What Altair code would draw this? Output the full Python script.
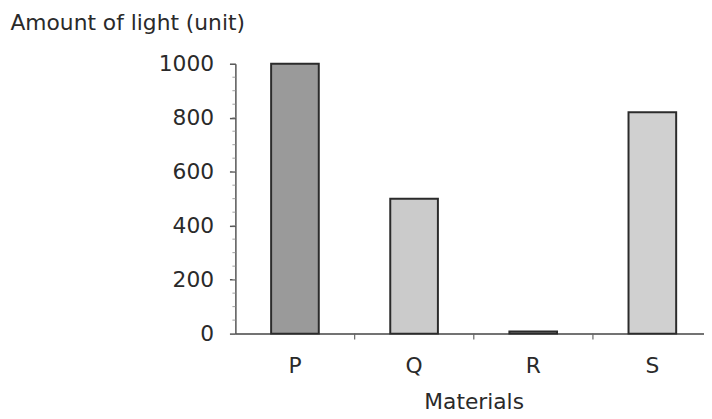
import altair as alt
import pandas as pd

materials = ["P", "Q", "R", "S"]
light = [1000, 500, 8, 820]
fills = ["#9a9a9a", "#cbcbcb", "#bdbdbd", "#d0d0d0"]
y_ticks = [0, 200, 400, 600, 800, 1000]
y_minor = list(range(50, 1000, 50))
boundary_materials = ["Q", "R", "S"]

df = pd.DataFrame({"Material": materials, "Light": light})
df_bound = pd.DataFrame({"Material": boundary_materials})
df_minor = pd.DataFrame({"Light": y_minor})

FONT = "DejaVu Sans"
TXT = "#2a2a2a"

x_axis = alt.Axis(
    title="Materials",
    labelAngle=0,
    ticks=False,
    labelPadding=22,
    labelFont=FONT,
    labelFontSize=22,
    labelColor=TXT,
    titleFont=FONT,
    titleFontSize=22,
    titleFontWeight="normal",
    titleColor=TXT,
    titleBaseline="alphabetic",
    titleY=76,
    domainColor="#444444",
    domainWidth=1.5,
)

y_axis = alt.Axis(
    title="Amount of light (unit)",
    values=y_ticks,
    format="d",
    grid=False,
    tickSize=6,
    tickColor="#555555",
    tickWidth=1.5,
    labelPadding=16,
    labelFont=FONT,
    labelFontSize=22,
    labelColor=TXT,
    titleFont=FONT,
    titleFontSize=22,
    titleFontWeight="normal",
    titleColor=TXT,
    titleAngle=0,
    titleAlign="left",
    titleBaseline="alphabetic",
    titleX=-228,
    titleY=-35,
    domainColor="#555555",
    domainWidth=1.5,
)

x_scale = alt.Scale(domain=materials, paddingInner=0.6, paddingOuter=0.3)
y_scale = alt.Scale(domain=[0, 1000], nice=False)

bars = alt.Chart(df).mark_bar(stroke="#2b2b2b", strokeWidth=2).encode(
    x=alt.X("Material:N", sort=materials, scale=x_scale, axis=x_axis),
    y=alt.Y("Light:Q", scale=y_scale, axis=y_axis),
    color=alt.Color(
        "Material:N",
        scale=alt.Scale(domain=materials, range=fills),
        legend=None,
    ),
)

bound_ticks = alt.Chart(df_bound).mark_rule(
    color="#666666", strokeWidth=1.2, xOffset=-36
).encode(
    x=alt.X("Material:N", sort=materials, scale=x_scale, bandPosition=0, axis=x_axis),
    y=alt.value(273),
    y2=alt.value(279),
)

minor_ticks = alt.Chart(df_minor).mark_rule(color="#a0a0a0", strokeWidth=1).encode(
    y=alt.Y("Light:Q", scale=y_scale, axis=y_axis),
    x=alt.value(-3),
    x2=alt.value(0),
)

chart = (
    alt.layer(bars, minor_ticks, bound_ticks)
    .properties(
        width=482,
        height=273,
        autosize=alt.AutoSizeParams(type="none"),
        padding={"left": 230, "top": 54, "right": -8, "bottom": 84},
        background="white",
    )
    .configure_view(stroke=None)
)

chart.save("out.html", embed_options={"renderer": "svg", "actions": False})
